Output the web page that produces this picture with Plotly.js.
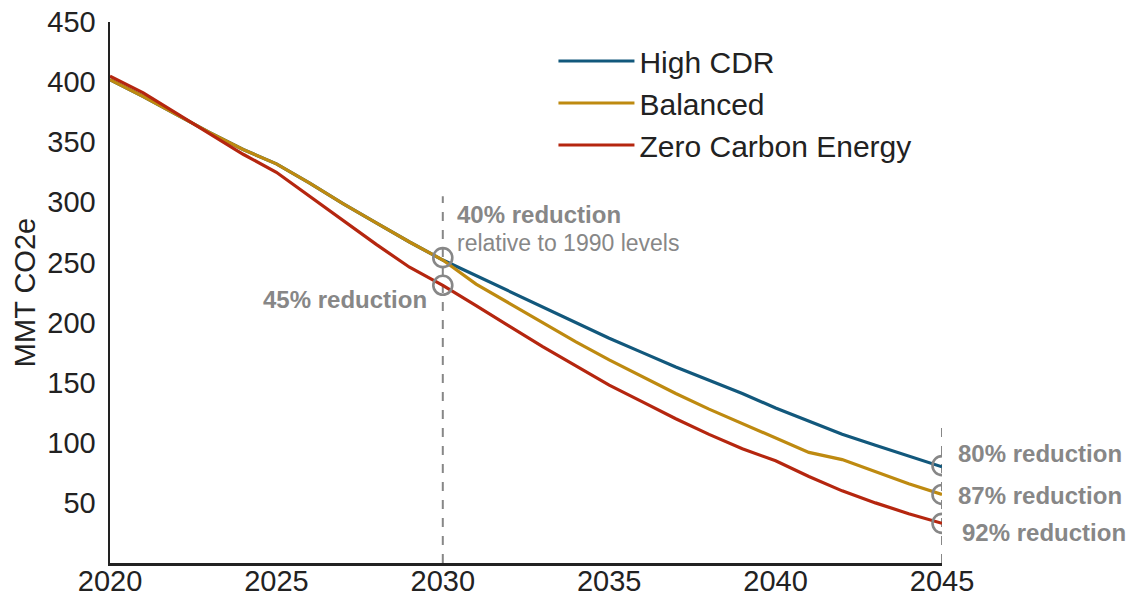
<!DOCTYPE html>
<html>
<head>
<meta charset="utf-8">
<script src="https://cdn.plot.ly/plotly-3.0.1.min.js"></script>
<style>html,body{margin:0;padding:0;background:#fff}#chart{width:1136px;height:599px}</style>
</head>
<body>
<div id="chart"></div>
<script>
const years = [2020,2021,2022,2023,2024,2025,2026,2027,2028,2029,2030,2031,2032,2033,2034,2035,2036,2037,2038,2039,2040,2041,2042,2043,2044,2045];
const highCDR = [402,388,373,358,344,332,316,299,283,267,252,239,226,213,200,187,175,163,152,141,129,118,107,98,89,80];
const balanced = [402,388,373,358,344,332,316,299,283,267,252,232,216,200,184,169,155,141,128,116,104,92,86,76,66,57];
const zeroCarbon = [405,391,374,357,340,325,305,285,265,246,231,214,197,180,164,148,134,120,107,95,85,72,60,50,41,33];
const seriesNames = ["High CDR","Balanced","Zero Carbon Energy"];
const seriesColors = ["#12587c","#be8a10","#b5260f"];
const markerYears = [2030,2030,2045,2045,2045];
const markerValues = [254,231,81,57,33];
const yTicks = [50,100,150,200,250,300,350,400,450];
const xTicks = [2020,2025,2030,2035,2040,2045];
const gray = "#878787";

const traces = [highCDR, balanced, zeroCarbon].map((v,i)=>({
  x: years, y: v, type: "scatter", mode: "lines", name: seriesNames[i],
  line: {color: seriesColors[i], width: 3.2}
}));
traces.push({x: markerYears, y: markerValues, type:"scatter", mode:"markers", showlegend:false,
  marker:{symbol:"circle-open", size:19, color:gray, line:{width:2.6, color:gray}}});

const font = "Liberation Sans, Arial, sans-serif";
const layout = {
  width:1136, height:599,
  margin:{l:110, r:194, t:22, b:36},
  paper_bgcolor:"#fff", plot_bgcolor:"#fff",
  showlegend:true,
  legend:{x:0.533, y:0.976, xanchor:"left", yanchor:"top", font:{family:font, size:30, color:"#222"}, itemwidth:76, tracegroupgap:0, bgcolor:"rgba(0,0,0,0)"},
  xaxis:{range:[2020,2045], tickvals:xTicks, showgrid:false, zeroline:false, showline:true, linecolor:"#222", linewidth:2.5,
    ticks:"", ticklabelstandoff:-9, tickfont:{family:font, size:29, color:"#222"}, fixedrange:true},
  yaxis:{range:[0,450], tickvals:yTicks, showgrid:false, zeroline:false, showline:true, linecolor:"#222", linewidth:2.5,
    ticks:"", ticklabelstandoff:6, tickfont:{family:font, size:29, color:"#222"},
    title:{text:"MMT CO2e", font:{family:font, size:29, color:"#222"}, standoff:3}},
  shapes:[
    {type:"line", xref:"x", yref:"y", x0:2030, x1:2030, y0:0, y1:305, line:{color:gray, width:2, dash:"dash"}, layer:"below"},
    {type:"line", xref:"x", yref:"y", x0:2045, x1:2045, y0:0, y1:115, line:{color:gray, width:2, dash:"dash"}, layer:"below"}
  ],
  annotations:[
    {x:2030, y:290, xref:"x", yref:"y", xanchor:"left", yanchor:"middle", xshift:12, text:"<b>40% reduction</b>", showarrow:false, font:{family:font, size:24, color:gray}},
    {x:2030, y:266, xref:"x", yref:"y", xanchor:"left", yanchor:"middle", xshift:12, text:"relative to 1990 levels", showarrow:false, font:{family:font, size:23, color:gray}},
    {x:2030, y:219, xref:"x", yref:"y", xanchor:"right", yanchor:"middle", xshift:-14, text:"<b>45% reduction</b>", showarrow:false, font:{family:font, size:24, color:gray}},
    {x:2045, y:91, xref:"x", yref:"y", xanchor:"left", yanchor:"middle", xshift:14, text:"<b>80% reduction</b>", showarrow:false, font:{family:font, size:24, color:gray}},
    {x:2045, y:56, xref:"x", yref:"y", xanchor:"left", yanchor:"middle", xshift:14, text:"<b>87% reduction</b>", showarrow:false, font:{family:font, size:24, color:gray}},
    {x:2045, y:25, xref:"x", yref:"y", xanchor:"left", yanchor:"middle", xshift:18, text:"<b>92% reduction</b>", showarrow:false, font:{family:font, size:24, color:gray}}
  ]
};
Plotly.newPlot("chart", traces, layout, {displayModeBar:false, staticPlot:true});
</script>
</body>
</html>
